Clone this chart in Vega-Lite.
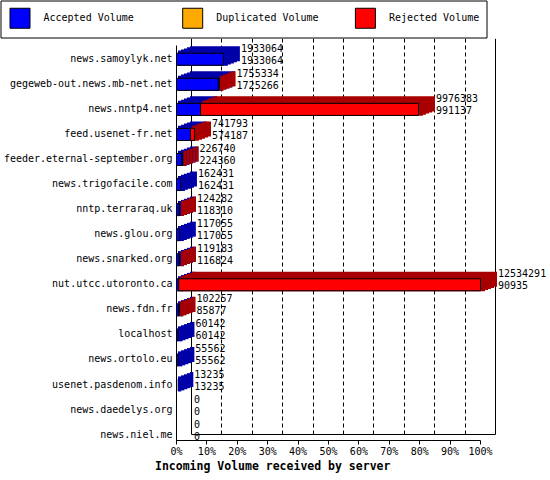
{
  "$schema": "https://vega.github.io/schema/vega-lite/v6.json",
  "width": 304,
  "height": 394,
  "autosize": "none",
  "padding": {"left": 191, "top": 40, "right": 55, "bottom": 46},
  "background": "white",
  "config": {"view": {"stroke": null}, "font": "DejaVu Sans Mono"},
  "data": {
    "values": [
      {"host": "news.samoylyk.net", "total": 1933064, "Accepted Volume": 1933064, "Duplicated Volume": 0, "Rejected Volume": 0},
      {"host": "gegeweb-out.news.mb-net.net", "total": 1755334, "Accepted Volume": 1725266, "Duplicated Volume": 0, "Rejected Volume": 30068},
      {"host": "news.nntp4.net", "total": 9976383, "Accepted Volume": 991137, "Duplicated Volume": 0, "Rejected Volume": 8985246},
      {"host": "feed.usenet-fr.net", "total": 741793, "Accepted Volume": 574187, "Duplicated Volume": 0, "Rejected Volume": 167606},
      {"host": "feeder.eternal-september.org", "total": 226740, "Accepted Volume": 224360, "Duplicated Volume": 0, "Rejected Volume": 2380},
      {"host": "news.trigofacile.com", "total": 162431, "Accepted Volume": 162431, "Duplicated Volume": 0, "Rejected Volume": 0},
      {"host": "nntp.terraraq.uk", "total": 124282, "Accepted Volume": 118310, "Duplicated Volume": 0, "Rejected Volume": 5972},
      {"host": "news.glou.org", "total": 117055, "Accepted Volume": 117055, "Duplicated Volume": 0, "Rejected Volume": 0},
      {"host": "news.snarked.org", "total": 119183, "Accepted Volume": 116824, "Duplicated Volume": 0, "Rejected Volume": 2359},
      {"host": "nut.utcc.utoronto.ca", "total": 12534291, "Accepted Volume": 90935, "Duplicated Volume": 0, "Rejected Volume": 12443356},
      {"host": "news.fdn.fr", "total": 102257, "Accepted Volume": 85877, "Duplicated Volume": 0, "Rejected Volume": 16380},
      {"host": "localhost", "total": 60142, "Accepted Volume": 60142, "Duplicated Volume": 0, "Rejected Volume": 0},
      {"host": "news.ortolo.eu", "total": 55562, "Accepted Volume": 55562, "Duplicated Volume": 0, "Rejected Volume": 0},
      {"host": "usenet.pasdenom.info", "total": 13235, "Accepted Volume": 13235, "Duplicated Volume": 0, "Rejected Volume": 0},
      {"host": "news.daedelys.org", "total": 0, "Accepted Volume": 0, "Duplicated Volume": 0, "Rejected Volume": 0},
      {"host": "news.niel.me", "total": 0, "Accepted Volume": 0, "Duplicated Volume": 0, "Rejected Volume": 0}
    ]
  },
  "transform": [
    {"fold": ["Accepted Volume", "Duplicated Volume", "Rejected Volume"], "as": ["kind", "volume"]}
  ],
  "encoding": {
    "y": {
      "field": "host",
      "type": "nominal",
      "scale": {
        "domain": ["news.samoylyk.net", "gegeweb-out.news.mb-net.net", "news.nntp4.net", "feed.usenet-fr.net", "feeder.eternal-september.org", "news.trigofacile.com", "nntp.terraraq.uk", "news.glou.org", "news.snarked.org", "nut.utcc.utoronto.ca", "news.fdn.fr", "localhost", "news.ortolo.eu", "usenet.pasdenom.info", "news.daedelys.org", "news.niel.me"],
        "range": [0, 395.7],
        "paddingInner": 0.52,
        "paddingOuter": 0.154,
        "align": 1
      },
      "axis": {
        "title": null,
        "orient": "left",
        "translate": 5.5,
        "offset": 20,
        "ticks": false,
        "grid": false,
        "domainColor": "black",
        "labelFont": "DejaVu Sans Mono",
        "labelFontSize": 10,
        "labelColor": "black",
        "labelPadding": 4,
        "labelLimit": 220
      }
    }
  },
  "layer": [
    {
      "transform": [{"filter": "datum.volume > 0"}],
      "encoding": {
        "x": {
          "field": "volume",
          "type": "quantitative",
          "stack": "zero",
          "scale": {"domain": [0, 12534291], "nice": false},
          "axis": {
            "orient": "bottom",
            "values": [0, 1253429.1, 2506858.2, 3760287.3, 5013716.4, 6267145.5, 7520574.6, 8774003.7, 10027432.8, 11280861.9, 12534291],
            "grid": true,
            "gridColor": "black",
            "gridOpacity": 1,
            "gridWidth": 1,
            "gridDash": {"condition": {"test": "datum.value == 0 || datum.value == 12534291", "value": []}, "value": [4, 3]},
            "domain": true,
            "domainColor": "black",
            "ticks": false,
            "labels": false,
            "title": null
          }
        },
        "fill": {
          "field": "kind",
          "type": "nominal",
          "scale": {"domain": ["Rejected Volume", "Duplicated Volume", "Accepted Volume"], "range": ["#a80000", "#a87000", "#0000a8"]},
          "legend": null
        },
        "stroke": {
          "field": "kind",
          "type": "nominal",
          "scale": {"domain": ["Rejected Volume", "Duplicated Volume", "Accepted Volume"], "range": ["#a80000", "#a87000", "#0000a8"]},
          "legend": null
        }
      },
      "layer": [
        {"mark": {"type": "bar", "strokeWidth": 3, "xOffset": 0.5, "x2Offset": 0.5}},
        {"mark": {"type": "bar", "strokeWidth": 3, "xOffset": -2.5, "x2Offset": -2.5, "yOffset": 1.1, "y2Offset": 1.1}},
        {"mark": {"type": "bar", "strokeWidth": 3, "xOffset": -5.5, "x2Offset": -5.5, "yOffset": 2.2, "y2Offset": 2.2}},
        {"mark": {"type": "bar", "strokeWidth": 3, "xOffset": -8.5, "x2Offset": -8.5, "yOffset": 3.3, "y2Offset": 3.3}},
        {"mark": {"type": "bar", "strokeWidth": 3, "xOffset": -11.5, "x2Offset": -11.5, "yOffset": 4.4, "y2Offset": 4.4}}
      ]
    },
    {
      "transform": [{"filter": "datum.volume > 0"}],
      "mark": {"type": "bar", "stroke": "black", "strokeWidth": 1, "xOffset": -14.5, "x2Offset": -14.5, "yOffset": 5.5, "y2Offset": 5.5},
      "encoding": {
        "x": {
          "field": "volume",
          "type": "quantitative",
          "stack": "zero",
          "scale": {"domain": [0, 12534291], "nice": false},
          "axis": {
            "orient": "bottom",
            "values": [0, 1253429.1, 2506858.2, 3760287.3, 5013716.4, 6267145.5, 7520574.6, 8774003.7, 10027432.8, 11280861.9, 12534291],
            "translate": -14.5,
            "offset": 21,
            "grid": false,
            "domainColor": "black",
            "tickColor": "black",
            "tickSize": 4,
            "labelExpr": "format(datum.value / 12534291, '.0%')",
            "labelFont": "DejaVu Sans Mono",
            "labelFontSize": 10,
            "labelColor": "black",
            "labelPadding": 2,
            "labelFlush": false,
            "labelOverlap": false,
            "title": "Incoming Volume received by server",
            "titleFont": "DejaVu Sans Mono",
            "titleFontSize": 11.5,
            "titleFontWeight": "bold",
            "titleColor": "black",
            "titleAnchor": "start",
            "titleAlign": "left",
            "titleBaseline": "alphabetic",
            "titleX": -21.5,
            "titleY": 29.5
          }
        },
        "color": {
          "field": "kind",
          "type": "nominal",
          "scale": {"domain": ["Accepted Volume", "Duplicated Volume", "Rejected Volume"], "range": ["#0000ff", "#ffaa00", "#ff0000"]},
          "legend": {
            "orient": "none",
            "legendX": -190.5,
            "legendY": -39.5,
            "direction": "horizontal",
            "columns": 3,
            "gridAlign": "all",
            "title": null,
            "padding": 7,
            "strokeColor": "black",
            "symbolType": "square",
            "symbolSize": 400,
            "symbolOffset": 2,
            "symbolStrokeColor": "black",
            "symbolStrokeWidth": 1,
            "symbolOpacity": 1,
            "labelOffset": 13,
            "labelFont": "DejaVu Sans Mono",
            "labelFontSize": 10,
            "labelColor": "black",
            "labelLimit": 300,
            "columnPadding": 33.7,
            "labelExpr": "datum.label == 'Rejected Volume' ? datum.label + '\u00a0\u00a0\u00a0\u00a0\u00a0\u00a0\u00a0\u00a0\u00a0\u00a0\u00a0' : datum.label"
          }
        }
      }
    },
    {
      "transform": [{"filter": "datum.kind == 'Accepted Volume'"}],
      "mark": {"type": "text", "align": "left", "baseline": "middle", "dx": 3, "dy": -5, "font": "DejaVu Sans Mono", "fontSize": 10, "color": "black"},
      "encoding": {
        "x": {"field": "total", "type": "quantitative", "scale": {"domain": [0, 12534291], "nice": false}, "axis": null},
        "text": {"field": "total", "type": "quantitative", "format": "d"}
      }
    },
    {
      "transform": [{"filter": "datum.kind == 'Accepted Volume'"}],
      "mark": {"type": "text", "align": "left", "baseline": "middle", "dx": 3, "dy": 7, "font": "DejaVu Sans Mono", "fontSize": 10, "color": "black"},
      "encoding": {
        "x": {"field": "total", "type": "quantitative", "scale": {"domain": [0, 12534291], "nice": false}, "axis": null},
        "text": {"field": "volume", "type": "quantitative", "format": "d"}
      }
    }
  ],
  "resolve": {"axis": {"x": "independent"}}
}
